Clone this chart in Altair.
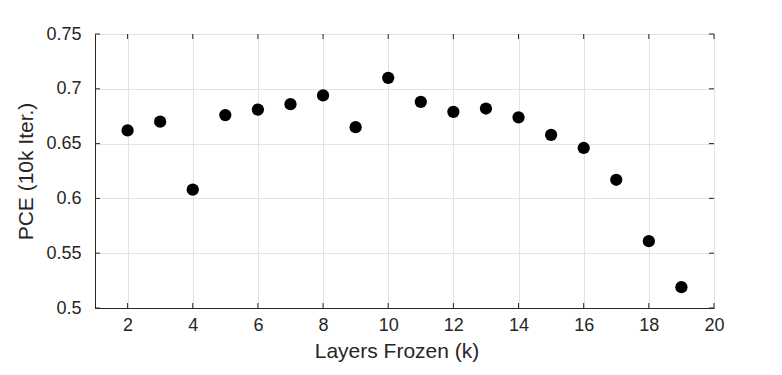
import altair as alt
import pandas as pd

layers = [2, 3, 4, 5, 6, 7, 8, 9, 10, 11, 12, 13, 14, 15, 16, 17, 18, 19]
pce = [0.662, 0.670, 0.608, 0.676, 0.681, 0.686, 0.694, 0.665, 0.710, 0.688,
       0.679, 0.682, 0.674, 0.658, 0.646, 0.617, 0.561, 0.519]
x_ticks = [2, 4, 6, 8, 10, 12, 14, 16, 18, 20]
y_ticks = [0.5, 0.55, 0.6, 0.65, 0.7, 0.75]

W, H = 619, 274
FONT = "Liberation Sans"
TXT = "#262626"

df = pd.DataFrame({"k": layers, "pce": pce})
xt = pd.DataFrame({"xt": x_ticks})
yt = pd.DataFrame({"yt": y_ticks})

xscale = alt.Scale(domain=[1, 20], nice=False, zero=False)
yscale = alt.Scale(domain=[0.5, 0.75], nice=False, zero=False)

points = alt.Chart(df).mark_circle(size=150, color="black", opacity=1).encode(
    x=alt.X("k:Q", scale=xscale,
            axis=alt.Axis(values=x_ticks, title="Layers Frozen (k)", ticks=False,
                          grid=True, gridColor="#e3e3e3", domainColor=TXT,
                          labelFlush=False, labelPadding=8, titlePadding=6,
                          titleX=W / 2 - 8)),
    y=alt.Y("pce:Q", scale=yscale,
            axis=alt.Axis(values=y_ticks, format=".2~f", title="PCE (10k Iter.)",
                          ticks=False, grid=True, gridColor="#e3e3e3",
                          labelFlush=False, domainColor=TXT,
                          labelPadding=14, titlePadding=9)),
)

tick_len = 5
bx = alt.Chart(xt).mark_rule(color=TXT, strokeWidth=1)
by = alt.Chart(yt).mark_rule(color=TXT, strokeWidth=1)
ticks_bottom = bx.encode(x=alt.X("xt:Q", scale=xscale), y=alt.value(H), y2=alt.value(H - tick_len))
ticks_top = bx.encode(x=alt.X("xt:Q", scale=xscale), y=alt.value(0), y2=alt.value(tick_len))
ticks_left = by.encode(y=alt.Y("yt:Q", scale=yscale), x=alt.value(0), x2=alt.value(tick_len))
ticks_right = by.encode(y=alt.Y("yt:Q", scale=yscale), x=alt.value(W), x2=alt.value(W - tick_len))

chart = alt.layer(points, ticks_bottom, ticks_top, ticks_left, ticks_right).properties(
    width=W, height=H,
    background="white",
    autosize=alt.AutoSizeParams(type="none"),
    padding={"left": 95, "top": 34, "right": 68, "bottom": 67},
).configure_view(stroke=TXT, strokeWidth=1).configure_axis(
    labelFont=FONT, titleFont=FONT, labelFontSize=18, titleFontSize=21,
    labelColor=TXT, titleColor=TXT, titleFontWeight="normal",
)

chart.save("out.html", embed_options={"renderer": "svg", "actions": False})
